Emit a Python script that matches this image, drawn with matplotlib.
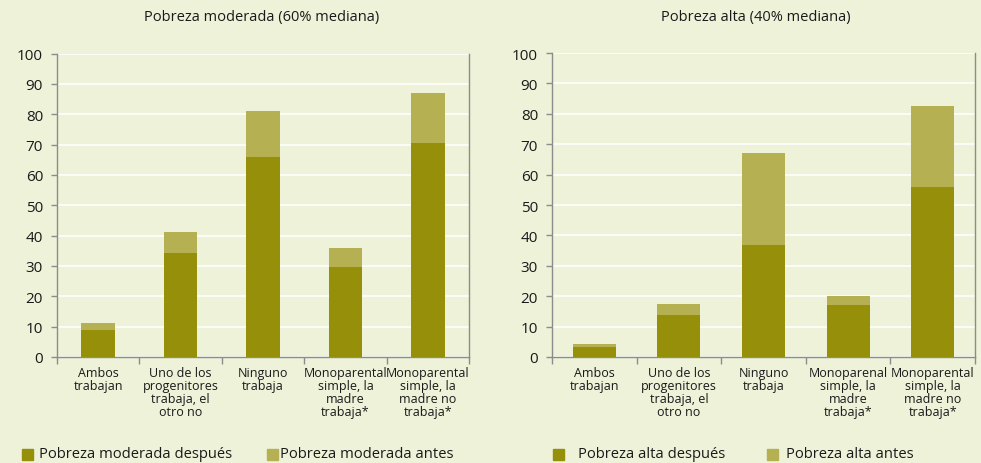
import matplotlib
matplotlib.use("Agg")
import matplotlib.pyplot as plt
import numpy as np

plt.rcParams['font.family'] = ['Open Sans', 'DejaVu Sans']

categorias_izq = ["Ambos\ntrabajan", "Uno de los\nprogenitores\ntrabaja, el\notro no",
                  "Ninguno\ntrabaja", "Monoparental\nsimple, la\nmadre\ntrabaja*",
                  "Monoparental\nsimple, la\nmadre no\ntrabaja*"]
categorias_der = ["Ambos\ntrabajan", "Uno de los\nprogenitores\ntrabaja, el\notro no",
                  "Ninguno\ntrabaja", "Monoparenal\nsimple, la\nmadre\ntrabaja*",
                  "Monoparental\nsimple, la\nmadre no\ntrabaja*"]

moderada_despues = [9.0, 34.3, 66.0, 29.7, 70.6]
moderada_antes = [11.2, 41.3, 81.2, 36.0, 87.1]
alta_despues = [3.4, 13.9, 36.8, 17.1, 55.9]
alta_antes = [4.3, 17.4, 67.1, 20.0, 82.6]

yticks = list(range(0, 101, 10))

BG = "#edf2d9"
OSCURO = "#968f0a"
CLARO = "#b5b152"
EJE = "#8c8c8c"
TEXTO = "#1a1a1a"

fig = plt.figure(figsize=(9.81, 4.64), dpi=100)
fig.patch.set_facecolor(BG)

def panel(rect, cats, despues, antes, ancho, titulo, tx, leg):
    ax = fig.add_axes(rect)
    ax.set_facecolor(BG)
    x = np.arange(len(cats))
    ax.bar(x, antes, width=ancho, color=CLARO, zorder=2)
    ax.bar(x, despues, width=ancho, color=OSCURO, zorder=3)
    ax.set_xlim(-0.5, len(cats) - 0.5)
    ax.set_ylim(0, 100)
    ax.set_yticks(yticks)
    ax.set_yticklabels([str(v) for v in yticks], fontsize=11, color=TEXTO)
    ax.yaxis.grid(True, color="white", linewidth=1.2, zorder=0)
    ax.set_axisbelow(True)
    ax.set_xticks(np.arange(-0.5, len(cats), 1.0))
    ax.set_xticklabels([])
    ax.tick_params(axis='x', direction='out', length=5, color=EJE, width=1)
    ax.tick_params(axis='y', direction='out', length=4, color=EJE, width=1, pad=6)
    for s in ['left', 'bottom', 'right']:
        ax.spines[s].set_color(EJE)
        ax.spines[s].set_linewidth(1.0)
    ax.spines['top'].set_visible(False)
    trans = ax.get_xaxis_transform()
    for xi, c in zip(x, cats):
        ax.text(xi, -0.03, c, transform=trans, ha='center', va='top',
                fontsize=9, color=TEXTO, linespacing=0.98)
    fig.text(tx, 1 - 17 / 464, titulo, ha='center', va='center',
             fontsize=10.5, color=TEXTO)
    (s1x, t1x, l1), (s2x, t2x, l2) = leg
    ly = 1 - 455 / 464
    for sx, txx, lab, col in [(s1x, t1x, l1, OSCURO), (s2x, t2x, l2, CLARO)]:
        fig.patches.append(plt.Rectangle((sx / 981, ly - 5.5 / 464), 11 / 981, 11 / 464,
                                         transform=fig.transFigure, color=col))
        fig.text(txx / 981, ly, lab, ha='left', va='center', fontsize=10.6, color=TEXTO)
    return ax

panel([57 / 981, 1 - 358 / 464, 412 / 981, 303.5 / 464], categorias_izq,
      moderada_despues, moderada_antes, 0.41, "Pobreza moderada (60% mediana)", 262 / 981,
      [(22, 39, "Pobreza moderada después"), (267, 280, "Pobreza moderada antes")])
panel([552 / 981, 1 - 358 / 464, 423 / 981, 304 / 464], categorias_der,
      alta_despues, alta_antes, 0.51, "Pobreza alta (40% mediana)", 756 / 981,
      [(553, 578, "Pobreza alta después"), (767, 786, "Pobreza alta antes")])

fig.savefig("out.png", dpi=100, facecolor=BG)
